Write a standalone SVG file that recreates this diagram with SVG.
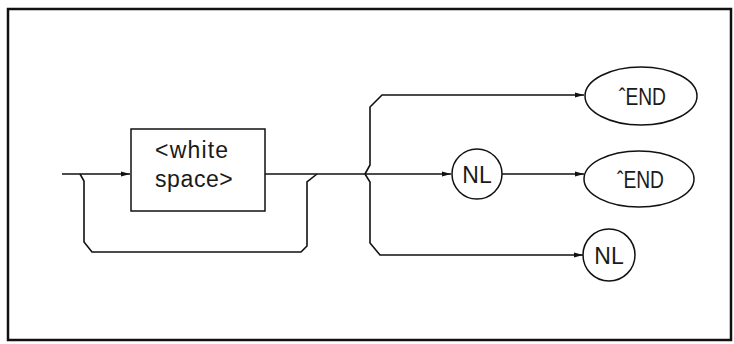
<svg xmlns="http://www.w3.org/2000/svg" width="734" height="344" viewBox="0 0 734 344">
<style>
.ln{fill:none;stroke:#111;stroke-width:1.6}
.nd{fill:#fff;stroke:#111;stroke-width:1.5}
.tx{font-family:"Liberation Sans",Arial,sans-serif;font-size:23px;fill:#1a1a1a}
.frame{fill:none;stroke:#111;stroke-width:2.5}
</style>
<defs>
<marker id="ah" markerWidth="9" markerHeight="6" refX="9" refY="3" orient="auto" markerUnits="userSpaceOnUse">
<path d="M0,0.5 L9,3 L0,5.5 Z" fill="#111"/>
</marker>
</defs>
<rect class="frame" x="8" y="9" width="723" height="331"/>
<g id="connectors">
<path class="ln" d="M62,174 L130,174" marker-end="url(#ah)"/>
<path class="ln" d="M80,174 L84,181 L84,242 L92,252 L301,252 L307,246 L307,182 L317,174"/>
<path class="ln" d="M265,174 L451,174" marker-end="url(#ah)"/>
<path class="ln" d="M365,174 L370,165 L370,107 L382,95 L584,95" marker-end="url(#ah)"/>
<path class="ln" d="M365,174 L370,182 L370,243 L380,255 L583,255" marker-end="url(#ah)"/>
<path class="ln" d="M502,174 L584,174" marker-end="url(#ah)"/>
</g>
<g id="whitespace">
<rect class="nd" x="131" y="129" width="134" height="82"/>
<text class="tx" x="155" y="158" letter-spacing="1.2">&lt;white</text>
<text class="tx" x="155" y="187" letter-spacing="0.6">space&gt;</text>
</g>
<g id="end1">
<ellipse class="nd" cx="641" cy="96" rx="56" ry="29"/>
<text class="tx" x="619" y="105" textLength="47" lengthAdjust="spacingAndGlyphs">ˆEND</text>
</g>
<g id="nl1">
<circle class="nd" cx="477" cy="174" r="25"/>
<text class="tx" x="477" y="183" text-anchor="middle">NL</text>
</g>
<g id="end2">
<ellipse class="nd" cx="639" cy="179" rx="55" ry="28"/>
<text class="tx" x="617" y="188" textLength="47" lengthAdjust="spacingAndGlyphs">ˆEND</text>
</g>
<g id="nl2">
<circle class="nd" cx="609" cy="255" r="26"/>
<text class="tx" x="609" y="264" text-anchor="middle">NL</text>
</g>
</svg>
